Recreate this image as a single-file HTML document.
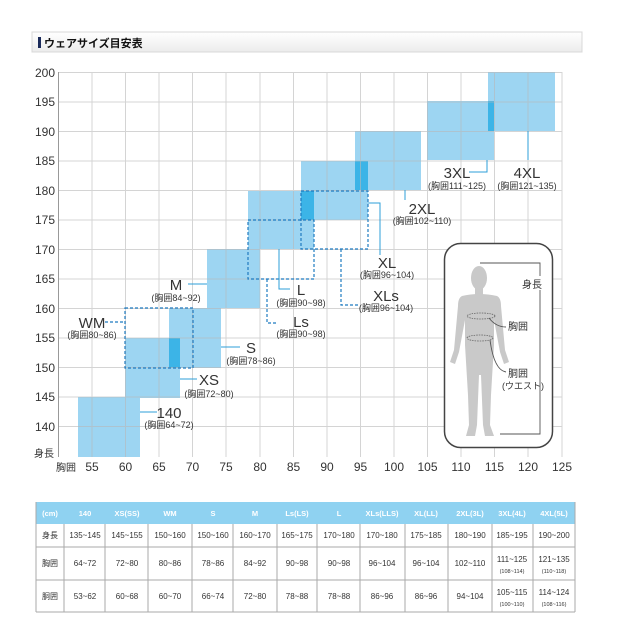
<!DOCTYPE html>
<html><head><meta charset="utf-8"><style>
body{margin:0;background:#fff;width:625px;height:635px;overflow:hidden;font-family:"Liberation Sans","Noto Sans CJK JP",sans-serif;}
svg text{font-family:"Liberation Sans","Noto Sans CJK JP",sans-serif;}
</style></head><body>
<svg width="625" height="635" viewBox="0 0 625 635" xmlns="http://www.w3.org/2000/svg">
<defs><linearGradient id="tg" x1="0" y1="0" x2="0" y2="1"><stop offset="0" stop-color="#ffffff"/><stop offset="1" stop-color="#ececec"/></linearGradient></defs>
<rect x="32" y="32" width="550" height="20" fill="url(#tg)" stroke="#d8d8d8"/>
<rect x="38" y="37" width="3" height="11" fill="#1a2a5a"/>
<text x="44" y="47" font-size="11" font-weight="bold" fill="#111">ウェアサイズ目安表</text>

<!-- rects -->
<g fill="#9dd5f2">
<rect x="78" y="397" width="62" height="60"/>
<rect x="125" y="338" width="55" height="60"/>
<rect x="169" y="308" width="52" height="60"/>
<rect x="207" y="249" width="53" height="59"/>
<rect x="248" y="191" width="66" height="58"/>
<rect x="301" y="161" width="67" height="59"/>
<rect x="355" y="131" width="66" height="59"/>
<rect x="427" y="101" width="67" height="59"/>
<rect x="488" y="72" width="67" height="59"/>
</g>
<g fill="#3cb4e7">
<rect x="169" y="338" width="11" height="30"/>
<rect x="301" y="191" width="13" height="29"/>
<rect x="355" y="161" width="13" height="29"/>
<rect x="488" y="101" width="6" height="30"/>
</g>

<!-- grid on top -->
<g stroke="#b8b8b8" stroke-width="1" opacity="0.6">
<line x1="58" y1="72.5" x2="562" y2="72.5"/>
<line x1="58" y1="102" x2="562" y2="102"/>
<line x1="58" y1="131.5" x2="562" y2="131.5"/>
<line x1="58" y1="161" x2="562" y2="161"/>
<line x1="58" y1="190.5" x2="562" y2="190.5"/>
<line x1="58" y1="220" x2="562" y2="220"/>
<line x1="58" y1="249.5" x2="562" y2="249.5"/>
<line x1="58" y1="279" x2="562" y2="279"/>
<line x1="58" y1="308.5" x2="562" y2="308.5"/>
<line x1="58" y1="338" x2="562" y2="338"/>
<line x1="58" y1="367.5" x2="562" y2="367.5"/>
<line x1="58" y1="397" x2="562" y2="397"/>
<line x1="58" y1="426.5" x2="562" y2="426.5"/>
<line x1="92" y1="72" x2="92" y2="457"/>
<line x1="125.5" y1="72" x2="125.5" y2="457"/>
<line x1="159" y1="72" x2="159" y2="457"/>
<line x1="192.5" y1="72" x2="192.5" y2="457"/>
<line x1="226" y1="72" x2="226" y2="457"/>
<line x1="260" y1="72" x2="260" y2="457"/>
<line x1="293.5" y1="72" x2="293.5" y2="457"/>
<line x1="327" y1="72" x2="327" y2="457"/>
<line x1="360.5" y1="72" x2="360.5" y2="457"/>
<line x1="394" y1="72" x2="394" y2="457"/>
<line x1="427.5" y1="72" x2="427.5" y2="457"/>
<line x1="461" y1="72" x2="461" y2="457"/>
<line x1="494.5" y1="72" x2="494.5" y2="457"/>
<line x1="528" y1="72" x2="528" y2="457"/>
<line x1="562" y1="72" x2="562" y2="457"/>
</g>
<line x1="58.5" y1="72" x2="58.5" y2="457" stroke="#999"/>

<g fill="none" stroke="#1f7bc0" stroke-width="1.2" stroke-dasharray="3,2">
<rect x="125" y="308" width="68" height="60"/>
<rect x="248" y="220" width="66" height="59"/>
<rect x="301" y="191" width="67" height="58"/>
<polyline points="105,322 125,322"/>
<polyline points="267,279 267,323 278,323"/>
<polyline points="341,249 341,305 358,305"/>
</g>
<g fill="none" stroke="#2d9fd8" stroke-width="1">
<polyline points="188,284 207,284"/>
<polyline points="221,347 240,347"/>
<polyline points="180,379 197,379"/>
<polyline points="140,412 157,412"/>
<polyline points="279,249 279,289 290,289"/>
<polyline points="368,203 380,203 380,255"/>
<polyline points="405,190 405,200"/>
<polyline points="487,160 487,172 469,172"/>
<polyline points="528,131 528,160"/>
</g>

<g fill="#333" text-anchor="middle">
<text x="176" y="290" font-size="15">M</text>
<text x="176" y="301" font-size="9">(胸囲84~92)</text>
<text x="92" y="328" font-size="15">WM</text>
<text x="92" y="338" font-size="9">(胸囲80~86)</text>
<text x="251" y="353" font-size="15">S</text>
<text x="251" y="364" font-size="9">(胸囲78~86)</text>
<text x="209" y="385" font-size="15">XS</text>
<text x="209" y="397" font-size="9">(胸囲72~80)</text>
<text x="169" y="418" font-size="15">140</text>
<text x="169" y="428" font-size="9">(胸囲64~72)</text>
<text x="301" y="295" font-size="15">L</text>
<text x="301" y="306" font-size="9">(胸囲90~98)</text>
<text x="301" y="327" font-size="15">Ls</text>
<text x="301" y="337" font-size="9">(胸囲90~98)</text>
<text x="387" y="268" font-size="15">XL</text>
<text x="387" y="278" font-size="9">(胸囲96~104)</text>
<text x="386" y="301" font-size="15">XLs</text>
<text x="386" y="311" font-size="9">(胸囲96~104)</text>
<text x="422" y="214" font-size="15">2XL</text>
<text x="422" y="224" font-size="9">(胸囲102~110)</text>
<text x="457" y="178" font-size="15">3XL</text>
<text x="457" y="189" font-size="9">(胸囲111~125)</text>
<text x="527" y="178" font-size="15">4XL</text>
<text x="527" y="189" font-size="9">(胸囲121~135)</text>
</g>

<g fill="#333" font-size="12" text-anchor="end">
<text x="55" y="77">200</text><text x="55" y="106">195</text><text x="55" y="136">190</text>
<text x="55" y="165">185</text><text x="55" y="195">180</text><text x="55" y="224">175</text>
<text x="55" y="254">170</text><text x="55" y="283">165</text><text x="55" y="313">160</text>
<text x="55" y="342">155</text><text x="55" y="372">150</text><text x="55" y="401">145</text>
<text x="55" y="431">140</text>
<text x="54" y="457" font-size="10">身長</text>
</g>
<g fill="#333" font-size="12" text-anchor="middle">
<text x="66" y="471" font-size="10">胸囲</text>
<text x="92" y="471">55</text><text x="125.5" y="471">60</text><text x="159" y="471">65</text>
<text x="192.5" y="471">70</text><text x="226" y="471">75</text><text x="260" y="471">80</text>
<text x="293.5" y="471">85</text><text x="327" y="471">90</text><text x="360.5" y="471">95</text>
<text x="394" y="471">100</text><text x="427.5" y="471">105</text><text x="461" y="471">110</text>
<text x="494.5" y="471">115</text><text x="528" y="471">120</text><text x="562" y="471">125</text>
</g>

<rect x="444.5" y="243.5" width="108" height="204" rx="16" fill="#fff" stroke="#444" stroke-width="1.5"/>
<g fill="#c9c9c9">
<ellipse cx="479" cy="278" rx="8" ry="12"/>
<rect x="475" y="287" width="8" height="8"/>
<path d="M462,296 Q479,292 497,296 Q501,298 501,306 L505,350 L509,362 L504,364 L500,352 L494,320 L494,345 L491,395 L490,425 L494,436 L485,436 L483,425 L481,375 L479,375 L477,425 L475,436 L466,436 L469,425 L468,395 L465,345 L465,320 L459,352 L455,364 L450,362 L454,350 L458,306 Q458,298 462,296 Z"/>
</g>
<g fill="none" stroke="#666" stroke-width="0.8" stroke-dasharray="1.5,1">
<ellipse cx="481" cy="316" rx="14" ry="3"/>
<ellipse cx="480" cy="338" rx="13" ry="3"/>
</g>
<g fill="none" stroke="#555" stroke-width="0.9">
<polyline points="480,263 540,263 540,434 500,434"/>
<path d="M489,318 Q496,327 506,327"/>
<path d="M490,340 Q494,370 506,372"/>
</g>
<rect x="520" y="276" width="25" height="14" fill="#fff"/>
<g fill="#333" font-size="10">
<text x="522" y="288">身長</text>
<text x="508" y="330">胸囲</text>
<text x="508" y="377">胴囲</text>
<text x="502" y="389" font-size="9">(ウエスト)</text>
</g>

<g>
<rect x="36" y="502" width="539" height="22" fill="#8fd2f1"/>
<g fill="#fff" font-size="7.5" font-weight="bold" text-anchor="middle">
<text x="50" y="516">(cm)</text>
<text x="85" y="516">140</text><text x="127" y="516">XS(SS)</text><text x="170" y="516">WM</text>
<text x="213" y="516">S</text><text x="255" y="516">M</text><text x="297" y="516">Ls(LS)</text>
<text x="339" y="516">L</text><text x="382" y="516">XLs(LLS)</text><text x="426" y="516">XL(LL)</text>
<text x="470" y="516">2XL(3L)</text><text x="512" y="516">3XL(4L)</text><text x="554" y="516">4XL(5L)</text>
</g>
<g stroke="#aaa" stroke-width="1" fill="none">
<line x1="36" y1="547" x2="575" y2="547"/>
<line x1="36" y1="580" x2="575" y2="580"/>
<line x1="36" y1="612" x2="575" y2="612"/>
<line x1="36" y1="502" x2="36" y2="612"/>
<line x1="575" y1="502" x2="575" y2="612"/>
<line x1="64" y1="524" x2="64" y2="612"/><line x1="105" y1="524" x2="105" y2="612"/>
<line x1="148" y1="524" x2="148" y2="612"/><line x1="192" y1="524" x2="192" y2="612"/>
<line x1="233" y1="524" x2="233" y2="612"/><line x1="277" y1="524" x2="277" y2="612"/>
<line x1="317" y1="524" x2="317" y2="612"/><line x1="360" y1="524" x2="360" y2="612"/>
<line x1="405" y1="524" x2="405" y2="612"/><line x1="448" y1="524" x2="448" y2="612"/>
<line x1="492" y1="524" x2="492" y2="612"/><line x1="533" y1="524" x2="533" y2="612"/>
</g>
<g fill="#333" font-size="8" text-anchor="middle">
<text x="50" y="538">身長</text>
<text x="85" y="538">135~145</text><text x="127" y="538">145~155</text><text x="170" y="538">150~160</text>
<text x="213" y="538">150~160</text><text x="255" y="538">160~170</text><text x="297" y="538">165~175</text>
<text x="339" y="538">170~180</text><text x="382" y="538">170~180</text><text x="426" y="538">175~185</text>
<text x="470" y="538">180~190</text><text x="512" y="538">185~195</text><text x="554" y="538">190~200</text>
<text x="50" y="566">胸囲</text>
<text x="85" y="566">64~72</text><text x="127" y="566">72~80</text><text x="170" y="566">80~86</text>
<text x="213" y="566">78~86</text><text x="255" y="566">84~92</text><text x="297" y="566">90~98</text>
<text x="339" y="566">90~98</text><text x="382" y="566">96~104</text><text x="426" y="566">96~104</text>
<text x="470" y="566">102~110</text>
<text x="512" y="562">111~125</text><text x="512" y="573" font-size="5.5">(108~114)</text>
<text x="554" y="562">121~135</text><text x="554" y="573" font-size="5.5">(110~118)</text>
<text x="50" y="599">胴囲</text>
<text x="85" y="599">53~62</text><text x="127" y="599">60~68</text><text x="170" y="599">60~70</text>
<text x="213" y="599">66~74</text><text x="255" y="599">72~80</text><text x="297" y="599">78~88</text>
<text x="339" y="599">78~88</text><text x="382" y="599">86~96</text><text x="426" y="599">86~96</text>
<text x="470" y="599">94~104</text>
<text x="512" y="595">105~115</text><text x="512" y="606" font-size="5.5">(100~110)</text>
<text x="554" y="595">114~124</text><text x="554" y="606" font-size="5.5">(108~116)</text>
</g>
</g>
</svg>
</body></html>
